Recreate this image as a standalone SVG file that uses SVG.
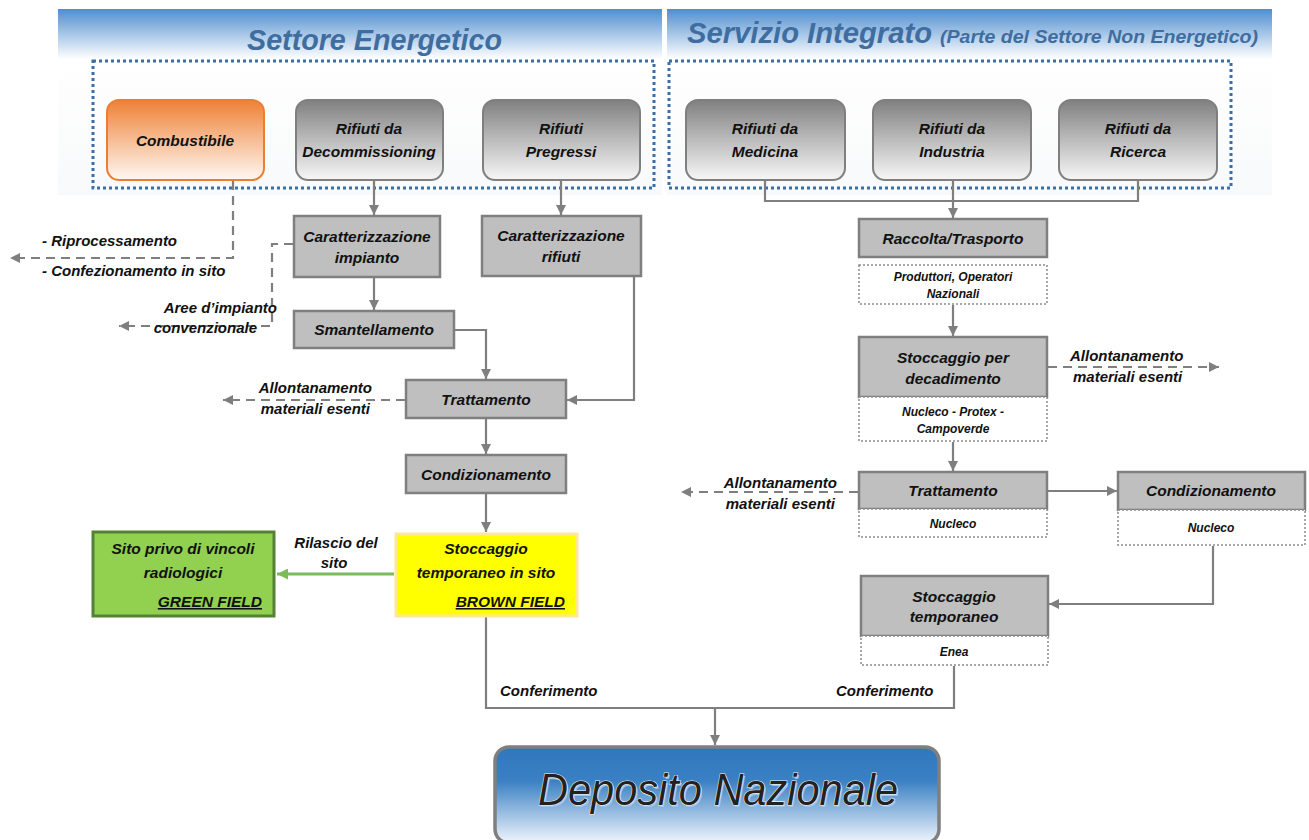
<svg xmlns="http://www.w3.org/2000/svg" width="1309" height="840" viewBox="0 0 1309 840">
<defs>
<linearGradient id="hdr" x1="0" y1="0" x2="0" y2="1">
<stop offset="0" stop-color="#4f8ed0"/>
<stop offset="0.27" stop-color="#ffffff"/>
<stop offset="1" stop-color="#f8f9fa"/>
</linearGradient>
<linearGradient id="gray" x1="0" y1="0" x2="0" y2="1">
<stop offset="0" stop-color="#808080"/>
<stop offset="1" stop-color="#f7f7f7"/>
</linearGradient>
<linearGradient id="orange" x1="0" y1="0" x2="0" y2="1">
<stop offset="0" stop-color="#ee8136"/>
<stop offset="1" stop-color="#fff8f3"/>
</linearGradient>
<linearGradient id="blue" x1="0" y1="0" x2="0" y2="1">
<stop offset="0" stop-color="#2f77bd"/>
<stop offset="0.35" stop-color="#3a80c3"/>
<stop offset="1" stop-color="#f0f6fc"/>
</linearGradient>
<marker id="ag" viewBox="0 0 10 10" refX="10" refY="5" markerUnits="userSpaceOnUse" markerWidth="10" markerHeight="10" orient="auto">
<path d="M0,0 L10,5 L0,10 z" fill="#7f7f7f"/>
</marker>
<marker id="agr" viewBox="0 0 10 10" refX="10" refY="5" markerUnits="userSpaceOnUse" markerWidth="11" markerHeight="11" orient="auto">
<path d="M0,0 L10,5 L0,10 z" fill="#7dbb5a"/>
</marker>
<style>
.t{font-family:"Liberation Sans",Arial,sans-serif;font-style:italic;font-weight:bold;fill:#111;}
.c{text-anchor:middle;}
.n15{font-size:15.5px;}
.n14{font-size:15px;}
.n11{font-size:12px;}
.title{font-family:"Liberation Sans",Arial,sans-serif;font-style:italic;font-weight:bold;fill:#3f6d9f;}
.box{fill:#bfbfbf;stroke:#7f7f7f;stroke-width:2.5;}
.rbox{fill:url(#gray);stroke:#7f7f7f;stroke-width:2;}
.sub{fill:#ffffff;stroke:#8c8c8c;stroke-width:1.5;stroke-dasharray:2 2;}
.grp{fill:none;stroke:#3b6ea6;stroke-width:3;stroke-dasharray:3 3;}
.ln{fill:none;stroke:#7f7f7f;stroke-width:2.2;}
.ds{fill:none;stroke:#7f7f7f;stroke-width:2.2;stroke-dasharray:9 6;}
</style>
</defs>
<rect width="1309" height="840" fill="#ffffff"/>

<g id="header-left">
<rect x="58" y="9" width="604" height="186" fill="url(#hdr)"/>
<text class="title" x="247" y="50" font-size="29" textLength="255" lengthAdjust="spacingAndGlyphs">Settore Energetico</text>
<rect class="grp" x="93" y="61" width="561" height="127"/>
</g>
<g id="header-right">
<rect x="667" y="9" width="605" height="186" fill="url(#hdr)"/>
<text class="title" x="687" y="43" font-size="29" textLength="245" lengthAdjust="spacingAndGlyphs">Servizio Integrato</text>
<text class="title" x="940" y="43" font-size="19" textLength="318" lengthAdjust="spacingAndGlyphs">(Parte del Settore Non Energetico)</text>
<rect class="grp" x="669" y="61" width="562" height="127"/>
</g>

<g id="connectors">
<path class="ds" d="M233,181 V258 H10" marker-end="url(#ag)"/>
<path class="ln" d="M374,180 V215" marker-end="url(#ag)"/>
<path class="ln" d="M561,180 V215" marker-end="url(#ag)"/>
<path class="ds" d="M293,244 H272 V326 H119" marker-end="url(#ag)"/>
<path class="ln" d="M374,278 V310" marker-end="url(#ag)"/>
<path class="ln" d="M455,330 H486 V379" marker-end="url(#ag)"/>
<path class="ln" d="M634,276 V400 H567" marker-end="url(#ag)"/>
<path class="ds" d="M405,400 H223" marker-end="url(#ag)"/>
<path class="ln" d="M486,419 V454" marker-end="url(#ag)"/>
<path class="ln" d="M486,494 V532" marker-end="url(#ag)"/>
<path d="M394,574 H277" fill="none" stroke="#7dbb5a" stroke-width="3" marker-end="url(#agr)"/>
<path class="ln" d="M486,617 V708 H954 V666"/>
<path class="ln" d="M715,708 V745" marker-end="url(#ag)"/>
<path class="ln" d="M765,181 V201 H1138 V181"/>
<path class="ln" d="M953,181 V218" marker-end="url(#ag)"/>
<path class="ln" d="M953,305 V336" marker-end="url(#ag)"/>
<path class="ds" d="M1048,367 H1219" marker-end="url(#ag)"/>
<path class="ln" d="M953,442 V471" marker-end="url(#ag)"/>
<path class="ds" d="M858,492 H681" marker-end="url(#ag)"/>
<path class="ln" d="M1048,491 H1117" marker-end="url(#ag)"/>
<path class="ln" d="M1213,546 V604 H1049" marker-end="url(#ag)"/>
</g>

<g id="labels">
<text class="t n14" x="42" y="246">- Riprocessamento</text>
<text class="t n14" x="42" y="276">- Confezionamento in sito</text>
<text class="t n14" x="277" y="313" text-anchor="end">Aree d’impianto</text>
<text class="t n14" x="257" y="333" text-anchor="end">convenzionale</text>
<text class="t n14" x="372" y="393" text-anchor="end">Allontanamento</text>
<text class="t n14" x="370" y="414" text-anchor="end">materiali esenti</text>
<text class="t n14 c" x="336" y="548">Rilascio del</text>
<text class="t n14 c" x="334" y="568">sito</text>
<text class="t n14" x="500" y="696">Conferimento</text>
<text class="t n14" x="836" y="696">Conferimento</text>
<text class="t n14" x="1070" y="361">Allontanamento</text>
<text class="t n14" x="1073" y="382">materiali esenti</text>
<text class="t n14" x="837" y="488" text-anchor="end">Allontanamento</text>
<text class="t n14" x="835" y="509" text-anchor="end">materiali esenti</text>
</g>

<g id="n-combustibile">
<rect x="107" y="100" width="157" height="80" rx="12" fill="url(#orange)" stroke="#ed7d31" stroke-width="2"/>
<text class="t n15 c" x="185" y="146">Combustibile</text>
</g>
<g id="n-decommissioning">
<rect class="rbox" x="296" y="100" width="147" height="80" rx="12"/>
<text class="t n15 c" x="369" y="134">Rifiuti da</text>
<text class="t n15 c" x="369" y="157">Decommissioning</text>
</g>
<g id="n-pregressi">
<rect class="rbox" x="483" y="100" width="157" height="80" rx="12"/>
<text class="t n15 c" x="561" y="134">Rifiuti</text>
<text class="t n15 c" x="561" y="157">Pregressi</text>
</g>
<g id="n-medicina">
<rect class="rbox" x="686" y="100" width="159" height="80" rx="12"/>
<text class="t n15 c" x="765" y="134">Rifiuti da</text>
<text class="t n15 c" x="765" y="157">Medicina</text>
</g>
<g id="n-industria">
<rect class="rbox" x="873" y="100" width="158" height="80" rx="12"/>
<text class="t n15 c" x="952" y="134">Rifiuti da</text>
<text class="t n15 c" x="952" y="157">Industria</text>
</g>
<g id="n-ricerca">
<rect class="rbox" x="1059" y="100" width="158" height="80" rx="12"/>
<text class="t n15 c" x="1138" y="134">Rifiuti da</text>
<text class="t n15 c" x="1138" y="157">Ricerca</text>
</g>

<g id="n-caratt-impianto">
<rect class="box" x="294" y="216" width="146" height="61"/>
<text class="t n15 c" x="367" y="242">Caratterizzazione</text>
<text class="t n15 c" x="367" y="263">impianto</text>
</g>
<g id="n-caratt-rifiuti">
<rect class="box" x="482" y="216" width="159" height="60"/>
<text class="t n15 c" x="561" y="241">Caratterizzazione</text>
<text class="t n15 c" x="561" y="262">rifiuti</text>
</g>
<g id="n-smantellamento">
<rect class="box" x="294" y="311" width="160" height="37"/>
<text class="t n15 c" x="374" y="335">Smantellamento</text>
</g>
<g id="n-trattamento-l">
<rect class="box" x="406" y="380" width="160" height="38"/>
<text class="t n15 c" x="486" y="405">Trattamento</text>
</g>
<g id="n-condizionamento-l">
<rect class="box" x="406" y="455" width="160" height="38"/>
<text class="t n15 c" x="486" y="480">Condizionamento</text>
</g>
<g id="n-brownfield">
<rect x="396" y="534" width="181" height="82" fill="#ffff00" stroke="#ffe699" stroke-width="3"/>
<text class="t n15 c" x="486" y="554">Stoccaggio</text>
<text class="t n15 c" x="486" y="578">temporaneo in sito</text>
<text class="t n15" x="565" y="607" text-anchor="end" text-decoration="underline">BROWN FIELD</text>
</g>
<g id="n-greenfield">
<rect x="93" y="532" width="181" height="84" fill="#92d050" stroke="#548235" stroke-width="3"/>
<text class="t n15 c" x="183" y="554">Sito privo di vincoli</text>
<text class="t n15 c" x="183" y="578">radiologici</text>
<text class="t n15" x="262" y="607" text-anchor="end" text-decoration="underline">GREEN FIELD</text>
</g>

<g id="n-raccolta">
<rect class="box" x="859" y="219" width="188" height="38"/>
<text class="t n15 c" x="953" y="244">Raccolta/Trasporto</text>
<rect class="sub" x="859" y="265" width="188" height="39"/>
<text class="t n11 c" x="953" y="281">Produttori, Operatori</text>
<text class="t n11 c" x="953" y="298">Nazionali</text>
</g>
<g id="n-decadimento">
<rect class="box" x="859" y="337" width="188" height="60"/>
<text class="t n15 c" x="953" y="363">Stoccaggio per</text>
<text class="t n15 c" x="953" y="384">decadimento</text>
<rect class="sub" x="859" y="397" width="188" height="44"/>
<text class="t n11 c" x="953" y="416">Nucleco - Protex -</text>
<text class="t n11 c" x="953" y="433">Campoverde</text>
</g>
<g id="n-trattamento-r">
<rect class="box" x="859" y="472" width="188" height="37"/>
<text class="t n15 c" x="953" y="496">Trattamento</text>
<rect class="sub" x="859" y="509" width="188" height="28"/>
<text class="t n11 c" x="953" y="528">Nucleco</text>
</g>
<g id="n-condizionamento-r">
<rect class="box" x="1118" y="472" width="187" height="38"/>
<text class="t n15 c" x="1211" y="496">Condizionamento</text>
<rect class="sub" x="1118" y="510" width="187" height="35"/>
<text class="t n11 c" x="1211" y="532">Nucleco</text>
</g>
<g id="n-stoccaggio-temp">
<rect class="box" x="861" y="576" width="187" height="60"/>
<text class="t n15 c" x="954" y="602">Stoccaggio</text>
<text class="t n15 c" x="954" y="622">temporaneo</text>
<rect class="sub" x="861" y="636" width="187" height="29"/>
<text class="t n11 c" x="954" y="656">Enea</text>
</g>

<g id="n-deposito">
<rect x="495" y="747" width="444" height="96" rx="14" fill="url(#blue)" stroke="#7f7f7f" stroke-width="3.5"/>
<text x="718" y="805" font-family="'Liberation Sans',Arial,sans-serif" font-style="italic" font-size="44" text-anchor="middle" textLength="360" lengthAdjust="spacingAndGlyphs" fill="#9ec3ea" transform="translate(1.5,2)">Deposito Nazionale</text>
<text x="718" y="805" font-family="'Liberation Sans',Arial,sans-serif" font-style="italic" font-size="44" text-anchor="middle" textLength="360" lengthAdjust="spacingAndGlyphs" fill="#222" stroke="#f4f4f4" stroke-width="1.2" paint-order="stroke">Deposito Nazionale</text>
</g>
</svg>
